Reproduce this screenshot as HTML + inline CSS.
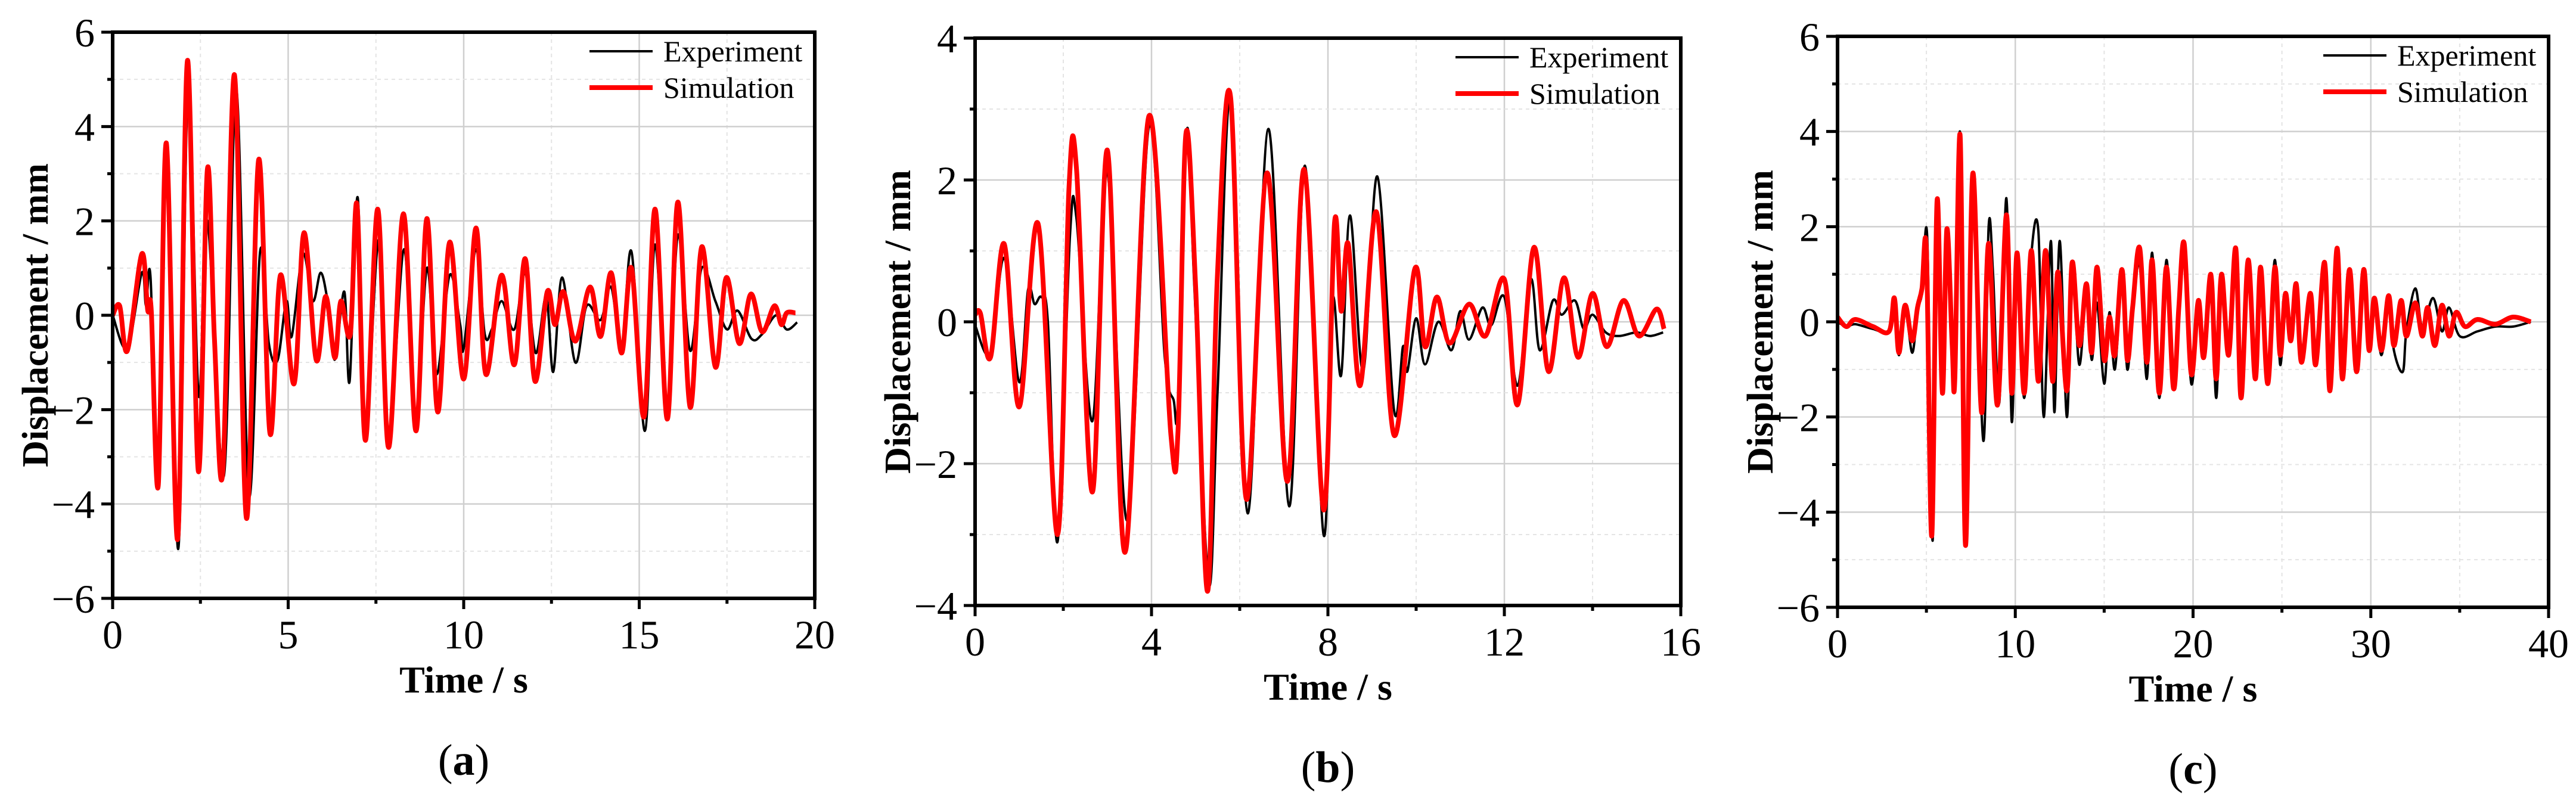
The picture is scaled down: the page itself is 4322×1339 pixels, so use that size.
<!DOCTYPE html>
<html><head><meta charset="utf-8"><style>
html,body{margin:0;padding:0;background:#fff;overflow:hidden}
svg{display:block}
text{font-family:"Liberation Serif",serif}
</style></head><body>
<svg id="fig" width="4322" height="1339" viewBox="0 0 4322 1339" xmlns="http://www.w3.org/2000/svg"></svg>
<script>
// ---- Panel (a) data ----
const aSimT=[0,0.2,0.42,0.83,1.0,1.1,1.3,1.53,1.85,2.13,2.44,2.7,2.9,3.14,3.47,3.81,4.16,4.48,4.78,5.17,5.45,5.8,6.07,6.33,6.5,6.77,6.96,7.2,7.55,7.86,8.28,8.64,8.95,9.26,9.6,10.0,10.35,10.63,11.08,11.44,11.75,12.03,12.38,12.6,12.84,13.18,13.6,13.9,14.2,14.5,14.78,15.14,15.45,15.8,16.1,16.45,16.78,17.17,17.48,17.85,18.18,18.5,18.85,19.05,19.2,19.45];
const aSimV=[0,0.2,-0.75,1.3,0.1,0.1,-3.6,3.65,-4.75,5.4,-3.3,3.1,-0.5,-3.3,5.1,-4.3,3.3,-2.5,0.85,-1.45,1.75,-0.95,0.4,-0.9,0.3,-0.4,2.35,-2.65,2.25,-2.8,2.15,-2.45,2.05,-2.05,1.55,-1.35,1.85,-1.25,0.85,-1.05,1.2,-1.4,0.5,-0.2,0.5,-0.55,0.6,-0.45,0.9,-0.8,1.0,-2.15,2.25,-2.2,2.4,-1.95,1.45,-1.1,0.8,-0.6,0.45,-0.35,0.2,-0.2,0.05,0.05];
const aExpT=[0,0.42,0.83,0.95,1.08,1.3,1.53,1.87,2.15,2.45,2.7,3.17,3.52,3.88,4.2,4.45,4.7,4.95,5.1,5.42,5.7,5.92,6.1,6.25,6.35,6.6,6.75,6.98,7.2,7.58,7.86,8.3,8.62,8.95,9.23,9.6,9.9,10.0,10.35,10.6,10.8,11.08,11.44,11.75,12.05,12.35,12.55,12.8,13.18,13.5,13.9,14.2,14.5,14.78,15.16,15.45,15.8,16.1,16.45,16.78,17.17,17.5,17.8,18.2,18.5,18.9,19.2,19.5];
const aExpV=[0,-0.7,0.9,0.2,0.8,-3.65,3.5,-4.95,4.8,-1.7,2.0,-3.4,4.8,-3.8,1.35,-0.6,-0.95,0.3,-0.45,1.3,0.3,0.9,0.4,-0.5,-0.9,0.5,-1.4,2.5,-2.5,1.6,-2.7,1.4,-2.4,1.0,-1.25,0.85,-0.2,-0.7,1.4,-0.4,-0.3,0.3,-0.3,0.9,-0.8,0.4,-1.2,0.8,-1.0,0.2,-0.1,0.6,-0.7,1.35,-2.45,1.5,-2.1,1.7,-0.75,1.0,0.3,-0.3,0.1,-0.5,-0.4,0,-0.3,-0.15];
const aXTicks=["0","5","10","15","20"];
const aYTicks=["−6","−4","−2","0","2","4","6"];
// ---- Panel (b) data ----
const bSimT=[0,0.12,0.35,0.66,1.0,1.43,1.87,2.13,2.3,2.66,3.0,3.4,3.94,4.44,4.6,4.78,5.0,5.27,5.49,5.79,6.15,6.62,7.08,7.46,7.9,8.15,8.3,8.46,8.73,9.1,9.5,9.97,10.2,10.47,10.76,11.2,11.57,12.0,12.3,12.67,13.0,13.35,13.67,14.0,14.32,14.7,15.05,15.45,15.62];
const bSimV=[0.1,0.12,-0.5,1.1,-1.2,1.38,-3.0,1.9,2.15,-2.4,2.42,-3.25,2.9,-1.6,-1.55,2.65,0.5,-3.8,0.6,3.18,-2.5,2.1,-2.25,2.15,-2.65,1.4,0.15,1.1,-0.9,1.55,-1.6,0.75,-0.35,0.35,-0.3,0.25,-0.2,0.6,-1.17,1.05,-0.7,0.62,-0.5,0.4,-0.35,0.3,-0.2,0.18,-0.1];
const bExpT=[0,0.35,0.66,1.0,1.2,1.35,1.5,1.65,1.87,2.15,2.3,2.66,3.0,3.45,3.94,4.3,4.5,4.6,4.8,4.97,5.3,5.5,5.8,6.18,6.65,7.12,7.48,7.9,8.1,8.3,8.5,8.8,9.12,9.5,9.7,9.8,10.0,10.2,10.5,10.8,11.0,11.2,11.5,11.7,12.0,12.3,12.6,12.8,13.1,13.3,13.6,13.8,14.0,14.3,14.6,15.0,15.3,15.6];
const bExpV=[-0.05,-0.45,0.9,-0.85,0.45,0.25,0.35,0,-3.1,1.2,1.45,-1.4,2.1,-2.8,2.75,-0.5,-1.1,-1.15,2.7,0.5,-3.7,-0.95,3.2,-2.7,2.72,-2.6,2.2,-3.0,0.3,-0.75,1.5,-0.7,2.05,-1.25,-0.35,-0.7,0.05,-0.6,0,-0.4,0.15,-0.25,0.2,-0.05,0.35,-0.9,0.6,-0.4,0.3,0.1,0.3,-0.1,0.1,-0.15,-0.2,-0.15,-0.2,-0.15];
const bXTicks=["0","4","8","12","16"];
const bYTicks=["−4","−2","0","2","4"];
// ---- Panel (c) data ----
const cSimT=[0,0.5,1,2,2.9,3.2,3.45,3.8,4.2,4.5,4.75,5.0,5.3,5.6,5.9,6.15,6.45,6.6,6.9,7.2,7.6,8.1,8.5,9.0,9.5,9.8,10.1,10.5,10.9,11.3,11.7,12.1,12.4,12.9,13.2,13.6,14.0,14.3,14.6,15.0,15.3,15.6,16.0,16.3,16.6,17.0,17.4,17.7,18.1,18.5,18.9,19.2,19.5,19.9,20.3,20.6,21.0,21.3,21.6,22.0,22.4,22.7,23.1,23.5,23.8,24.2,24.6,24.9,25.2,25.5,25.8,26.1,26.6,26.9,27.4,27.7,28.1,28.4,28.8,29.2,29.6,29.9,30.2,30.6,31.0,31.3,31.7,32.0,32.5,32.9,33.2,33.6,34.0,34.4,34.8,35.3,36,37,38,39];
const cSimV=[0.1,-0.1,0.05,-0.1,-0.2,0.5,-0.65,0.35,-0.4,0.3,0.7,1.5,-4.5,2.55,-1.5,1.95,-0.5,-1.2,3.9,-4.7,3.1,-1.9,1.65,-1.75,2.25,-1.5,1.45,-1.5,1.5,-1.25,1.5,-1.25,1.05,-1.45,1.25,-0.5,0.8,-0.65,1.15,-0.8,0.1,-0.7,1.1,-0.8,0.3,1.55,-0.85,1.3,-1.5,1.15,-1.4,0.3,1.65,-1.1,0.45,-0.75,1.0,-1.2,1.0,-0.7,1.55,-1.6,1.3,-1.2,1.15,-1.3,1.15,-0.7,0.6,-0.4,0.8,-0.85,0.6,-0.9,1.25,-1.45,1.55,-1.2,1.1,-1.05,1.1,-0.6,0.5,-0.6,0.55,-0.5,0.45,-0.3,0.4,-0.3,0.3,-0.5,0.35,-0.3,0.2,-0.1,0.05,-0.05,0.1,0];
const cExpT=[0,0.5,1,2,2.9,3.2,3.45,3.8,4.2,4.5,4.75,5.05,5.35,5.6,5.9,6.15,6.45,6.6,6.9,7.25,7.6,8.2,8.5,8.75,9.1,9.5,9.8,10.1,10.5,10.9,11.3,11.6,12.0,12.2,12.5,12.9,13.2,13.6,14.0,14.3,14.6,15.0,15.3,15.6,16.0,16.3,16.6,17.0,17.4,17.7,18.1,18.5,18.9,19.2,19.5,19.9,20.3,20.6,21.0,21.3,21.6,22.0,22.4,22.7,23.1,23.5,23.8,24.2,24.6,24.9,25.2,25.5,25.8,26.1,26.6,26.9,27.4,27.7,28.1,28.4,28.8,29.2,29.6,29.9,30.2,30.6,31.0,31.3,31.8,32.0,32.5,32.9,33.5,34.0,34.4,35.0,36,37,38,39];
const cExpV=[0,-0.1,-0.05,-0.15,-0.2,0.4,-0.7,0.3,-0.65,0.25,0.6,1.75,-4.6,2.4,-1.4,1.8,-0.9,-1.0,3.95,-4.6,2.9,-2.5,2.0,1.0,-1.7,2.6,-2.1,1.3,-1.6,1.4,1.9,-2.0,1.7,-1.9,1.7,-2.0,1.1,-0.9,0.6,-0.8,0.4,-1.3,0.2,-1.0,0.8,-1.0,0.2,1.2,-1.2,1.45,-1.6,1.3,-1.2,0.2,1.4,-1.3,0.2,-0.6,1.0,-1.6,0.9,-0.5,1.4,-1.5,1.2,-1.1,1.0,-1.0,1.3,-0.9,0.5,-0.3,0.6,-0.7,0.5,-0.8,1.1,-1.3,1.4,-1.0,0.9,-1.0,1.0,-0.5,0.4,-0.7,0.45,-0.6,-1.05,-0.2,0.7,-0.1,0.5,-0.2,0.3,-0.3,-0.2,-0.1,-0.1,0];
const cXTicks=["0","10","20","30","40"];
const cYTicks=["−6","−4","−2","0","2","4","6"];

const NS="http://www.w3.org/2000/svg";
const fig=document.getElementById('fig');
function mk(tag,attrs,parent){const e=document.createElementNS(NS,tag);for(const k in attrs)e.setAttribute(k,attrs[k]);(parent||fig).appendChild(e);return e;}
function smoothPath(pts){
  let d="M"+pts[0][0].toFixed(1)+","+pts[0][1].toFixed(1);
  for(let i=0;i<pts.length-1;i++){
    const p0=pts[Math.max(0,i-1)],p1=pts[i],p2=pts[i+1],p3=pts[Math.min(pts.length-1,i+2)];
    const c1x=p1[0]+(p2[0]-p0[0])/6,c1y=p1[1]+(p2[1]-p0[1])/6;
    const c2x=p2[0]-(p3[0]-p1[0])/6,c2y=p2[1]-(p3[1]-p1[1])/6;
    d+="C"+c1x.toFixed(1)+","+c1y.toFixed(1)+" "+c2x.toFixed(1)+","+c2y.toFixed(1)+" "+p2[0].toFixed(1)+","+p2[1].toFixed(1);
  }
  return d;
}
function panel(id,L,R,T,B,xmax,ymin,ymax,xt,yt,expT,expV,simT,simV,cap){
  const g=mk('g',{});
  
  
  const sx=t=>L+(t/xmax)*(R-L), sy=v=>B-(v-ymin)/(ymax-ymin)*(B-T);
  const nx=xt.length-1, ny=yt.length-1;
  for(let i=0;i<=nx*2;i++){const x=L+(R-L)*i/(nx*2);
    const ln=mk('line',{x1:x,x2:x,y1:T,y2:B,stroke:i%2?'#e4e4e4':'#cfcfcf','stroke-width':i%2?2:2.5,'stroke-dasharray':i%2?'6 6':'none'},g);
    
    mk('line',{x1:x,x2:x,y1:B,y2:B+(i%2?9:18),stroke:'#000','stroke-width':5},g);}
  for(let i=0;i<=ny*2;i++){const y=T+(B-T)*i/(ny*2);
    const ln=mk('line',{x1:L,x2:R,y1:y,y2:y,stroke:i%2?'#e4e4e4':'#cfcfcf','stroke-width':i%2?2:2.5,'stroke-dasharray':i%2?'6 6':'none'},g);
    
    mk('line',{x1:L,x2:L-(i%2?9:19),y1:y,y2:y,stroke:'#000','stroke-width':5},g);}
  xt.forEach((s,i)=>{const t=mk('text',{x:L+(R-L)*i/nx,y:B+84,'font-size':68,'text-anchor':'middle'},g);t.textContent=s;
    });
  yt.forEach((s,i)=>{const t=mk('text',{x:L-30,y:B-(B-T)*i/ny+24,'font-size':68,'text-anchor':'end'},g);t.textContent=s;
    });
  const ex=mk('path',{d:smoothPath(expT.map((t,i)=>[sx(t),sy(expV[i])])),fill:'none',stroke:'#000','stroke-width':4,'stroke-linejoin':'round'},g);
  
  const si=mk('path',{d:smoothPath(simT.map((t,i)=>[sx(t),sy(simV[i])])),fill:'none',stroke:'#ff0000','stroke-width':8,'stroke-linejoin':'round'},g);
  
  const fr=mk('rect',{x:L,y:T,width:R-L,height:B-T,fill:'none',stroke:'#000','stroke-width':6},g);
  
  const lx=R-378;
  const lg=mk('g',{},g);
  mk('line',{x1:lx,x2:lx+106,y1:T+32,y2:T+32,stroke:'#000','stroke-width':4},lg);
  let t1=mk('text',{x:lx+124,y:T+49,'font-size':50},lg);t1.textContent='Experiment';
  
  mk('line',{x1:lx,x2:lx+106,y1:T+93,y2:T+93,stroke:'#ff0000','stroke-width':8},lg);
  let t2=mk('text',{x:lx+124,y:T+110,'font-size':50},lg);t2.textContent='Simulation';
  
  const xl=mk('text',{x:(L+R)/2,y:B+158,'font-size':64,'font-weight':'bold','text-anchor':'middle'},g);xl.textContent='Time / s';
  
  const cy=(T+B)/2, cx=L-129;
  const yl=mk('text',{x:cx,y:cy+20,'font-size':62,'font-weight':'bold','text-anchor':'middle',transform:`rotate(-90 ${cx} ${cy})`},g);yl.textContent='Displacement / mm';
  
  const c=mk('text',{x:(L+R)/2,y:B+296,'font-size':74,'text-anchor':'middle'},g);
  c.innerHTML='(<tspan font-weight="bold">'+cap+'</tspan>)';
  
}
panel('a',189,1367,54,1004,20,-6,6,aXTicks,aYTicks,aExpT,aExpV,aSimT,aSimV,'a');
panel('b',1636,2820,64,1016,16,-4,4,bXTicks,bYTicks,bExpT,bExpV,bSimT,bSimV,'b');
panel('c',3083,4276,61,1019,40,-6,6,cXTicks,cYTicks,cExpT,cExpV,cSimT,cSimV,'c');
</script>
</body></html>
